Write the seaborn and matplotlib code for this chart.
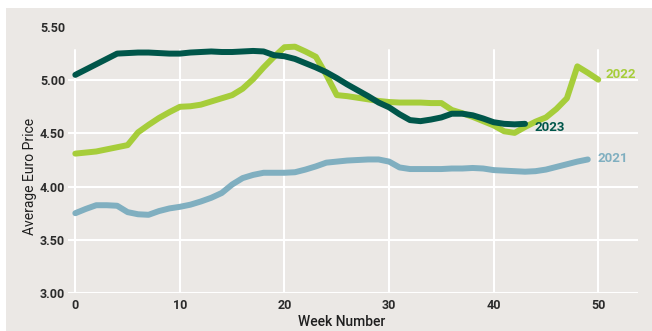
import numpy as np
import pandas as pd
import matplotlib
matplotlib.use("Agg")
import matplotlib.pyplot as plt
from matplotlib.patches import Rectangle
import seaborn as sns

# Weekly average prices (EUR) per year
price_2021 = [3.75, 3.79, 3.825, 3.825, 3.82, 3.76, 3.74, 3.735, 3.77, 3.795,
              3.81, 3.83, 3.86, 3.895, 3.94, 4.02, 4.08, 4.11, 4.13, 4.13,
              4.13, 4.135, 4.16, 4.19, 4.225, 4.235, 4.245, 4.25, 4.255, 4.255,
              4.235, 4.18, 4.165, 4.165, 4.165, 4.165, 4.17, 4.17, 4.175, 4.17,
              4.155, 4.15, 4.145, 4.14, 4.145, 4.16, 4.185, 4.21, 4.235, 4.255]
price_2022 = [4.31, 4.32, 4.33, 4.35, 4.37, 4.39, 4.51, 4.58, 4.645, 4.70,
              4.75, 4.755, 4.77, 4.80, 4.83, 4.86, 4.92, 5.01, 5.12, 5.22,
              5.31, 5.315, 5.27, 5.22, 5.05, 4.86, 4.85, 4.835, 4.82, 4.805,
              4.795, 4.79, 4.79, 4.79, 4.785, 4.785, 4.72, 4.69, 4.655, 4.615,
              4.575, 4.52, 4.505, 4.56, 4.61, 4.65, 4.73, 4.83, 5.13, 5.07,
              5.005]
price_2023 = [5.05, 5.10, 5.15, 5.20, 5.25, 5.255, 5.26, 5.26, 5.255, 5.25,
              5.25, 5.26, 5.265, 5.27, 5.265, 5.265, 5.27, 5.275, 5.27, 5.235,
              5.225, 5.20, 5.16, 5.12, 5.075, 5.02, 4.96, 4.905, 4.85, 4.79,
              4.745, 4.68, 4.625, 4.615, 4.63, 4.65, 4.685, 4.685, 4.67, 4.64,
              4.605, 4.59, 4.585, 4.59]

years = ["2021", "2022", "2023"]
series = [price_2021, price_2022, price_2023]
colors = {"2021": "#80afc0", "2022": "#a6cd3a", "2023": "#00564a"}

x_ticks = [0, 10, 20, 30, 40, 50]
y_ticks = [3.0, 3.5, 4.0, 4.5, 5.0, 5.5]

frames = [pd.DataFrame({"Week": np.arange(len(v)), "Price": v, "Year": y})
          for y, v in zip(years, series)]
df = pd.concat(frames, ignore_index=True)

sns.set_theme(style="white")
plt.rcParams["font.family"] = ["Roboto", "DejaVu Sans"]

bg = "#ebe8e5"
fig = plt.figure(figsize=(6.52, 3.31), dpi=100, facecolor="white")
fig.patches.append(Rectangle((6 / 652, 0), 1, (331 - 8) / 331,
                             transform=fig.transFigure, facecolor=bg,
                             edgecolor="none", zorder=-10))
ax = fig.add_axes([68 / 652, 1 - 293 / 331, (638 - 68) / 652, (293 - 27) / 331])
ax.set_facecolor(bg)

ax.set_xlim(-0.7, 53.8)
ax.set_ylim(3.0, 5.5)

# Grid: horizontal lines up to 5.00, vertical lines stopping below the top label
for yv in y_ticks[:-1]:
    ax.axhline(yv, color="white", lw=1.5, zorder=1)
for xv in x_ticks:
    ax.axvline(xv, ymin=0, ymax=(5.28 - 3.0) / 2.5, color="white", lw=1.5, zorder=1)

sns.lineplot(data=df, x="Week", y="Price", hue="Year", hue_order=years,
             palette=colors, linewidth=4.3, legend=False, ax=ax,
             solid_capstyle="round", zorder=3)

for spine in ax.spines.values():
    spine.set_visible(False)

ax.set_xticks(x_ticks)
ax.set_xticklabels([str(t) for t in x_ticks])
ax.set_yticks(y_ticks)
ax.set_yticklabels([f"{t:.2f}" for t in y_ticks])
ax.tick_params(axis="both", length=0, labelsize=9, labelcolor="#2b2b2b")
ax.tick_params(axis="x", pad=4)
ax.tick_params(axis="y", pad=2)
for lab in ax.get_xticklabels() + ax.get_yticklabels():
    lab.set_fontweight("bold")

ax.set_xlabel("Week Number", fontsize=10, color="#1f1f1f", fontweight="medium")
ax.xaxis.set_label_coords(0.48, -0.083)
ax.set_ylabel("Average Euro Price", fontsize=10, color="#1f1f1f")
ax.yaxis.set_label_coords(-0.055, 0.44)

# End-of-line year labels
offsets = {"2021": (7, 1), "2022": (5, 4), "2023": (7, -3)}
for y, v in zip(years, series):
    ax.annotate(y, xy=(len(v) - 1, v[-1]), xytext=offsets[y],
                textcoords="offset points", ha="left", va="center",
                fontsize=9.5, fontweight="bold", color=colors[y])

fig.savefig("out.png", dpi=100, facecolor="white")
